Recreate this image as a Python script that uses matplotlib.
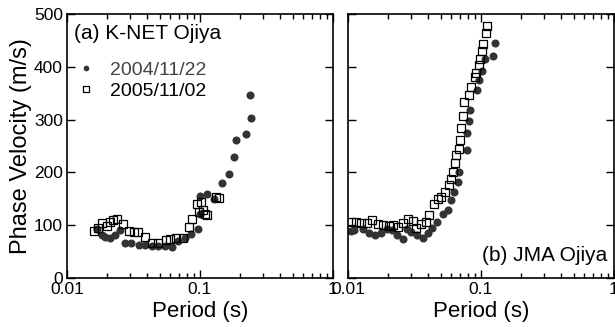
import matplotlib
matplotlib.use("Agg")
import matplotlib.pyplot as plt
from matplotlib.ticker import LogLocator, NullFormatter, FixedLocator, FixedFormatter

plt.rcParams['font.family'] = ['Liberation Sans', 'DejaVu Sans']

# K-NET Ojiya
knet_2004_T = [0.0168, 0.0183, 0.0194, 0.0209, 0.0228, 0.0252, 0.0275, 0.0305, 0.0346,
               0.0388, 0.0436, 0.0488, 0.0548, 0.0616, 0.069, 0.0776, 0.0856, 0.096,
               0.0995, 0.1, 0.114, 0.127, 0.146, 0.167, 0.18, 0.187, 0.222, 0.237, 0.241]
knet_2004_V = [92, 81, 78, 75, 81, 90, 67, 67, 63, 62, 60, 60, 60, 59, 70, 76, 83, 92,
               121, 155, 159, 150, 179, 197, 229, 261, 272, 346, 304]
knet_2005_T = [0.0159, 0.017, 0.0183, 0.0199, 0.0212, 0.0221, 0.0239, 0.0262, 0.0291,
               0.0317, 0.0341, 0.0388, 0.0436, 0.0488, 0.0554, 0.06, 0.0664, 0.0745,
               0.0827, 0.087, 0.095, 0.098, 0.1024, 0.1055, 0.11, 0.114, 0.133, 0.14]
knet_2005_V = [89, 94, 104, 98, 106, 109, 111, 102, 89, 87, 87, 78, 67, 66, 71, 73, 75, 76,
               97, 112, 141, 125, 144, 128, 122, 119, 154, 152]

# JMA Ojiya
jma_2004_T = [0.0106, 0.0111, 0.013, 0.0143, 0.0159, 0.0176, 0.0196, 0.0215, 0.0233,
              0.0258, 0.0277, 0.0298, 0.0329, 0.0369, 0.0398, 0.0429, 0.0467, 0.0515,
              0.0562, 0.0595, 0.0623, 0.0668, 0.0687, 0.0783, 0.079, 0.0812, 0.0825,
              0.093, 0.0971, 0.1018, 0.108, 0.1236, 0.1283]
jma_2004_V = [89, 90, 92, 85, 82, 86, 92, 90, 81, 73, 92, 88, 81, 76, 86, 94, 106, 122,
              128, 147, 163, 182, 201, 243, 275, 298, 318, 357, 375, 392, 415, 421, 446]
jma_2005_T = [0.0106, 0.0115, 0.0126, 0.0139, 0.0152, 0.0168, 0.0183, 0.0203, 0.0218,
              0.0238, 0.0261, 0.0282, 0.031, 0.0326, 0.0355, 0.0383, 0.041, 0.0447,
              0.0474, 0.0501, 0.054, 0.0572, 0.0595, 0.0619, 0.0633, 0.0649, 0.0678,
              0.0696, 0.0707, 0.0728, 0.0741, 0.0817, 0.0842, 0.0898, 0.0924, 0.0971,
              0.0988, 0.1018, 0.1042, 0.109, 0.1106]
jma_2005_V = [106, 106, 104, 104, 109, 103, 101, 99, 101, 97, 105, 111, 108, 94, 102, 106,
              120, 140, 150, 154, 163, 177, 188, 201, 218, 233, 245, 262, 284, 307, 334,
              346, 361, 381, 389, 403, 414, 430, 444, 465, 478]

labels = ["2004/11/22", "2005/11/02"]
x_ticks = [0.01, 0.1, 1]
x_ticklabels = ["0.01", "0.1", "1"]
y_ticks = [0, 100, 200, 300, 400, 500]

fig = plt.figure(figsize=(6.15, 3.27), dpi=100)
ax1 = fig.add_axes([0.109, 0.150, 0.432, 0.807])
ax2 = fig.add_axes([0.566, 0.150, 0.432, 0.807])

panels = [
    (ax1, knet_2004_T, knet_2004_V, knet_2005_T, knet_2005_V),
    (ax2, jma_2004_T, jma_2004_V, jma_2005_T, jma_2005_V),
]

for ax, t1, v1, t2, v2 in panels:
    ax.plot(t1, v1, 'o', ms=5.8, mfc='#333333', mec='none', label=labels[0])
    ax.plot(t2, v2, 's', ms=5.6, mfc='none', mec='black', mew=0.9, label=labels[1])
    ax.set_xscale('log')
    ax.set_xlim(0.01, 1)
    ax.set_ylim(0, 500)
    ax.xaxis.set_major_locator(FixedLocator(x_ticks))
    ax.xaxis.set_major_formatter(FixedFormatter(x_ticklabels))
    ax.xaxis.set_minor_locator(LogLocator(base=10, subs=range(2, 10)))
    ax.xaxis.set_minor_formatter(NullFormatter())
    ax.set_yticks(y_ticks)
    ax.tick_params(which='both', direction='in', top=True, right=True, labelsize=12.5, pad=3)
    ax.tick_params(which='major', length=6, width=1)
    ax.tick_params(which='minor', length=3.5, width=1)
    for s in ax.spines.values():
        s.set_linewidth(1.2)
    ax.set_xlabel("Period (s)", fontsize=16, labelpad=3)

ax1.set_ylabel("Phase Velocity (m/s)", fontsize=17, labelpad=1)
ax2.tick_params(labelleft=False)

ax1.text(0.025, 0.925, "(a) K-NET Ojiya", transform=ax1.transAxes, fontsize=15,
         ha='left', va='center')
leg = ax1.legend(loc='upper left', bbox_to_anchor=(0.0, 0.85), frameon=False,
                 fontsize=14, markerscale=0.7, handlelength=1.2, handletextpad=0.6,
                 labelspacing=0.15, borderaxespad=0)
leg.get_texts()[0].set_color('#444444')

ax2.text(0.975, 0.085, "(b) JMA Ojiya", transform=ax2.transAxes, fontsize=15,
         ha='right', va='center')

fig.savefig("out.png", dpi=100)
